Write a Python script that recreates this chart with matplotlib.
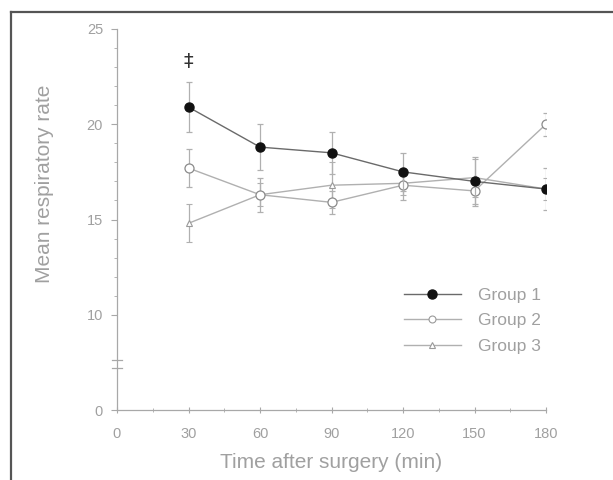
import numpy as np
import matplotlib
matplotlib.use("Agg")
import matplotlib.pyplot as plt
from matplotlib.lines import Line2D

# Mean respiratory rate after surgery, three groups

# -----------------------------------------
# Data
# -----------------------------------------
time_min = [30, 60, 90, 120, 150, 180]

group1 = [20.9, 18.8, 18.5, 17.5, 17.0, 16.6]
group1_err = [1.3, 1.2, 1.1, 1.0, 1.3, 1.1]

group2 = [17.7, 16.3, 15.9, 16.8, 16.5, 20.0]
group2_err = [1.0, 0.9, 0.6, 0.8, 0.7, 0.6]

group3 = [14.8, 16.3, 16.8, 16.9, 17.2, 16.6]
group3_err = [1.0, 0.6, 1.2, 0.6, 1.0, 0.6]

series_labels = ["Group 1", "Group 2", "Group 3"]

# the y axis is broken: the bottom tick is labelled 0 but sits where 5 would be
y_ticks = [5, 10, 15, 20, 25]
y_tick_labels = ["0", "10", "15", "20", "25"]
x_ticks = [0, 30, 60, 90, 120, 150, 180]

# -----------------------------------------
# Style
# -----------------------------------------
plt.rcParams['font.family'] = ['Liberation Sans', 'DejaVu Sans']
txt_color = '#a0a0a0'
axis_color = '#a8a8a8'
dark_line = '#6a6a6a'
light_line = '#b0b0b0'

W, H = 613, 480
fig = plt.figure(figsize=(W / 100, H / 100), dpi=100)

# axes placed to pixel positions of the reference
x0, x1 = 117, 546
y0, y1 = 410, 29
ax = fig.add_axes([x0 / W, 1 - y0 / H, (x1 - x0) / W, (y0 - y1) / H])
ax.patch.set_alpha(0)

# -----------------------------------------
# Series
# -----------------------------------------
err_kw = dict(ecolor=light_line, elinewidth=0.9, capsize=2.5, capthick=0.9)

ax.errorbar(time_min, group3, yerr=group3_err, color=light_line, lw=1.0,
            marker='^', ms=5, mfc='white', mec='#9a9a9a', mew=0.8, zorder=3, **err_kw)
ax.errorbar(time_min, group2, yerr=group2_err, color=light_line, lw=1.0,
            marker='o', ms=6.5, mfc='white', mec='#8a8a8a', mew=0.9, zorder=4, **err_kw)
ax.errorbar(time_min, group1, yerr=group1_err, color=dark_line, lw=1.0,
            marker='o', ms=6.5, mfc='#111111', mec='#111111', zorder=5, **err_kw)

# significance mark above first point
ax.text(time_min[0], 23.3, "‡", ha='center', va='center',
        fontsize=14, color='#333333', family=['DejaVu Sans'])

# -----------------------------------------
# Axes
# -----------------------------------------
ax.set_xlim(0, 180)
ax.set_ylim(5, 25)
for s in ['top', 'right']:
    ax.spines[s].set_visible(False)
for s in ['left', 'bottom']:
    ax.spines[s].set_color(axis_color)
    ax.spines[s].set_linewidth(0.9)

ax.set_xticks(x_ticks)
ax.set_xticks(np.arange(0, 181, 15), minor=True)
ax.set_yticks(y_ticks)
ax.set_yticklabels(y_tick_labels)
ax.set_yticks(np.arange(10, 26, 1), minor=True)

ax.tick_params(axis='both', which='both', colors=axis_color, labelcolor=txt_color,
               labelsize=10.5)
ax.tick_params(axis='y', which='major', direction='out', length=4, pad=6)
ax.tick_params(axis='y', which='minor', direction='out', length=2)
ax.tick_params(axis='x', which='major', direction='inout', length=4, pad=10)
ax.tick_params(axis='x', which='minor', direction='inout', length=3)

# break marks on the y axis
for yb in [7.65, 7.2]:
    ax.plot([-2.2, 2.2], [yb, yb], color=axis_color, lw=0.9, clip_on=False)

fig.text((x0 + x1) / 2 / W, 1 - 462 / H, "Time after surgery (min)",
         ha='center', va='center', fontsize=15, color=txt_color)
fig.text(45 / W, 1 - 184 / H, "Mean respiratory rate", rotation=90,
         ha='center', va='center', fontsize=15, color=txt_color)

# -----------------------------------------
# Legend
# -----------------------------------------
handles = [
    Line2D([], [], color=dark_line, lw=1.0, marker='o', ms=6.5,
           mfc='#111111', mec='#111111'),
    Line2D([], [], color=light_line, lw=1.0, marker='o', ms=5,
           mfc='white', mec='#9a9a9a', mew=0.8),
    Line2D([], [], color=light_line, lw=1.0, marker='^', ms=4,
           mfc='white', mec='#9a9a9a', mew=0.8),
]
leg = ax.legend(handles, series_labels, loc='upper left',
                bbox_to_anchor=(388 / W, 1 - 272 / H), bbox_transform=fig.transFigure,
                frameon=False, fontsize=12.5, handlelength=3.3, handletextpad=1.0,
                labelspacing=0.6, labelcolor=txt_color)

# -----------------------------------------
# Outer frame (cropped scan border)
# -----------------------------------------
fig.add_artist(Line2D([11 / W, 1.0], [1 - 12 / H, 1 - 12 / H],
                      transform=fig.transFigure, color='#555555', lw=1.6))
fig.add_artist(Line2D([11 / W, 11 / W], [0.0, 1 - 12 / H],
                      transform=fig.transFigure, color='#555555', lw=1.6))

fig.savefig("out.png", dpi=100)
